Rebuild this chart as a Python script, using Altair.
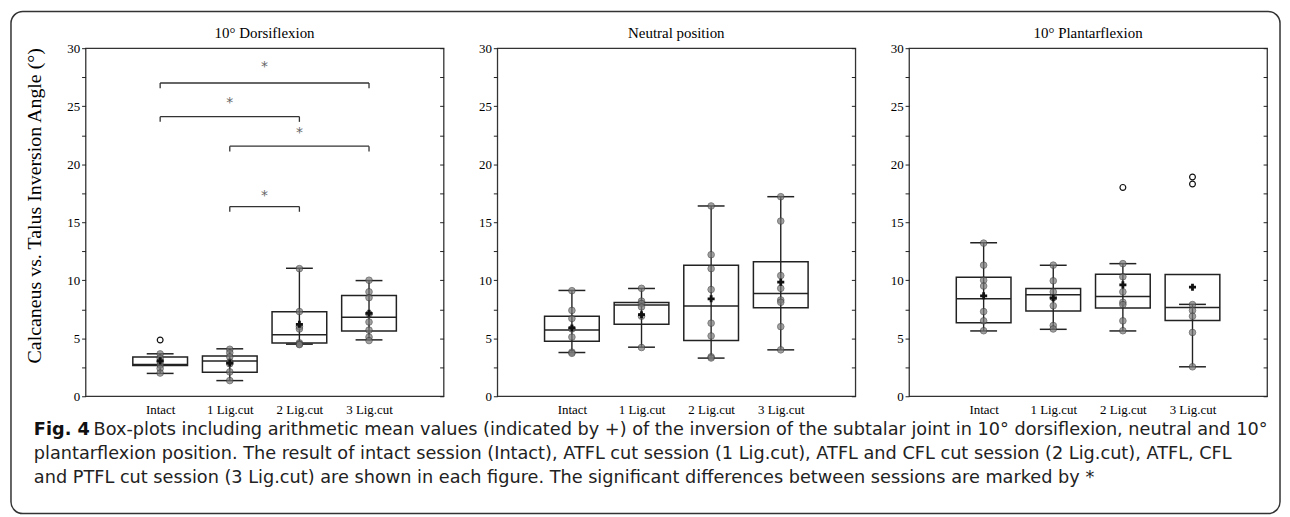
import json
import altair as alt
import pandas as pd

categories = ["Intact", "1 Lig.cut", "2 Lig.cut", "3 Lig.cut"]
panel_titles = ["10° Dorsiflexion", "Neutral position", "10° Plantarflexion"]
y_title = "Calcaneus vs. Talus Inversion Angle (°)"

# ---- 10° Dorsiflexion
dors_q1 = [2.65, 2.06, 4.60, 5.63]
dors_med = [2.74, 3.03, 5.31, 6.80]
dors_q3 = [3.38, 3.46, 7.28, 8.69]
dors_lo = [1.97, 1.35, 4.49, 4.86]
dors_hi = [3.66, 4.09, 11.03, 9.97]
dors_mean = [3.05, 2.86, 6.20, 7.15]
dors_pts = [[3.65, 3.3, 3.0, 2.7, 2.4, 2.0],
            [4.05, 3.75, 3.4, 2.95, 2.8, 2.1, 1.35],
            [11.0, 7.3, 6.0, 5.8, 4.6, 4.5, 4.45],
            [10.0, 9.0, 8.5, 7.1, 6.4, 5.7, 5.1, 4.8]]
dors_out = [[4.85], [], [], []]

# ---- Neutral position
neut_q1 = [4.75, 6.20, 4.80, 7.63]
neut_med = [5.72, 7.86, 7.77, 8.86]
neut_q3 = [6.89, 8.09, 11.29, 11.60]
neut_lo = [3.77, 4.23, 3.29, 4.00]
neut_hi = [9.12, 9.29, 16.40, 17.20]
neut_mean = [5.89, 7.03, 8.40, 9.83]
neut_pts = [[9.1, 7.4, 6.7, 5.8, 5.1, 3.8, 3.7],
            [9.3, 8.2, 8.0, 7.7, 6.9, 4.2],
            [16.4, 12.2, 11.0, 9.2, 6.3, 5.2, 3.4, 3.3],
            [17.2, 15.1, 10.4, 9.3, 8.3, 8.1, 6.0, 4.0]]
neut_out = [[], [], [], []]

# ---- 10° Plantarflexion
plan_q1 = [6.34, 7.34, 7.60, 6.52]
plan_med = [8.40, 8.74, 8.60, 7.66]
plan_q3 = [10.26, 9.29, 10.51, 10.49]
plan_lo = [5.63, 5.77, 5.63, 2.54]
plan_hi = [13.23, 11.29, 11.43, 7.92]
plan_mean = [8.66, 8.46, 9.60, 9.40]
plan_pts = [[13.2, 11.3, 10.0, 9.5, 7.3, 6.5, 5.65],
            [11.3, 9.95, 9.0, 8.5, 7.8, 6.1, 5.8],
            [11.43, 10.3, 9.0, 8.1, 7.9, 6.5, 5.65],
            [7.9, 7.4, 6.9, 5.5, 2.54]]
plan_out = [[], [], [18.0], [18.9, 18.3]]

# significance brackets (dorsiflexion panel): category index from/to, level, star level
br_from = [1, 1, 2, 2]
br_to = [4, 3, 4, 3]
br_level = [27.0, 24.1, 21.55, 16.35]
br_star = [28.4, 25.3, 22.7, 17.3]

caption_bold = "Fig. 4"
caption_lines = [
    "Box-plots including arithmetic mean values (indicated by +) of the inversion of the subtalar joint in 10° dorsiflexion, neutral and 10°",
    "plantarflexion position. The result of intact session (Intact), ATFL cut session (1 Lig.cut), ATFL and CFL cut session (2 Lig.cut), ATFL, CFL",
    "and PTFL cut session (3 Lig.cut) are shown in each figure. The significant differences between sessions are marked by *",
]

SERIF = "Liberation Serif"
CAP_FONT = "DejaVu Sans"
CAP_SIZE = 17.8
INK = "#222222"
PW, PH = 360, 350

label_expr = json.dumps([""] + categories) + "[datum.value]"
xscale = alt.Scale(domain=[0, 5], nice=False, zero=False)
yscale = alt.Scale(domain=[0, 30], nice=False, zero=False)
xaxis = alt.Axis(values=[1, 2, 3, 4], labelExpr=label_expr, ticks=False, domain=False,
                 grid=False, labelFont=SERIF, labelFontSize=13, labelColor="black",
                 labelPadding=7)
yvals = [i * 2.5 for i in range(13)]
left_axis = alt.Axis(values=yvals, labelExpr="datum.value % 5 === 0 ? datum.label : ''",
                     tickSize=4, tickColor=INK, domain=False, grid=False, labelFont=SERIF,
                     labelFontSize=13, labelColor="black", labelPadding=2,
                     titleFont=SERIF, titleFontSize=20, titleFontWeight="normal",
                     titleColor="black", titlePadding=22, titleY=158)
right_axis = alt.Axis(orient="right", values=yvals, labels=False, tickSize=4, tickColor=INK,
                      domain=False, grid=False, offset=-4)


def Xf(field):
    return alt.X(field, scale=xscale, axis=xaxis, title=None)


def Yn(field):
    return alt.Y(field, scale=yscale, axis=None)


def frame_and_caption():
    """Outer rounded frame and figure caption, positioned relative to the first panel."""
    one = pd.DataFrame({"t": [caption_bold]})
    frame = alt.Chart(one).mark_rect(fill="white", fillOpacity=0, stroke="#333333",
                                     strokeWidth=1.5, cornerRadius=12).encode(
        x=alt.value(-75), x2=alt.value(1201), y=alt.value(-37), y2=alt.value(468))
    layers = [frame]
    layers.append(alt.Chart(one).mark_text(
        font=CAP_FONT, fontSize=CAP_SIZE, fontWeight="bold", color="#111111", align="left",
        baseline="middle").encode(x=alt.value(-52), y=alt.value(384), text="t:N"))
    xs = [8, -52, -52]
    ys = [384, 408, 432]
    for line, xx, yy in zip(caption_lines, xs, ys):
        layers.append(alt.Chart(pd.DataFrame({"t": [line]})).mark_text(
            font=CAP_FONT, fontSize=CAP_SIZE, color="#222222", align="left",
            baseline="middle").encode(x=alt.value(xx), y=alt.value(yy), text="t:N"))
    return layers


def make_panel(q1, med, q3, lo, hi, mean, pts, outs, title, show_ytitle, first=False):
    pos = [1, 2, 3, 4]
    box_df = pd.DataFrame(dict(pos=pos, q1=q1, med=med, q3=q3, lo=lo, hi=hi, mean=mean))
    pts_df = pd.DataFrame([{"pos": i + 1, "v": v} for i, vs in enumerate(pts) for v in vs])
    out_rows = [{"pos": i + 1, "v": v} for i, vs in enumerate(outs) for v in vs]
    X = Xf("pos:Q")

    whisk = alt.Chart(box_df).mark_rule(color=INK, strokeWidth=1.4).encode(
        x=X,
        y=alt.Y("lo:Q", scale=yscale, axis=left_axis, title=y_title if show_ytitle else None),
        y2="hi:Q")
    box = alt.Chart(box_df).mark_bar(size=55, fill="white", fillOpacity=0, stroke=INK,
                                     strokeWidth=1.5).encode(
        x=X, y=alt.Y("q1:Q", scale=yscale, axis=right_axis, title=None), y2="q3:Q")
    median = alt.Chart(box_df).mark_tick(orient="horizontal", size=55, thickness=1.5,
                                         color=INK, opacity=1).encode(x=X, y=Yn("med:Q"))
    cap_lo = alt.Chart(box_df).mark_tick(orient="horizontal", size=27, thickness=1.5,
                                         color=INK, opacity=1).encode(x=X, y=Yn("lo:Q"))
    cap_hi = alt.Chart(box_df).mark_tick(orient="horizontal", size=27, thickness=1.5,
                                         color=INK, opacity=1).encode(x=X, y=Yn("hi:Q"))
    dots = alt.Chart(pts_df).mark_circle(size=44, color="#7a7a7a", opacity=0.7,
                                         stroke="#3c3c3c", strokeWidth=0.9).encode(
        x=X, y=Yn("v:Q"))
    mean_m = alt.Chart(box_df).mark_point(shape="cross", filled=True, color="#111111",
                                          size=50, opacity=1).encode(x=X, y=Yn("mean:Q"))
    ttl = alt.Chart(pd.DataFrame({"t": [title]})).mark_text(
        font=SERIF, fontSize=15, color="black", align="center", baseline="middle").encode(
        x=alt.value(PW / 2), y=alt.value(-15), text="t:N")
    layers = [whisk, box, median, cap_lo, cap_hi, dots]
    if out_rows:
        out_m = alt.Chart(pd.DataFrame(out_rows)).mark_point(
            shape="circle", size=34, filled=False, color="#111111", strokeWidth=1.2,
            opacity=1).encode(x=X, y=Yn("v:Q"))
        layers.append(out_m)
    layers += [mean_m, ttl]
    if first:
        br_df = pd.DataFrame(dict(a=br_from, b=br_to, lvl=br_level, star=br_star))
        base = alt.Chart(br_df).transform_calculate(
            low="datum.lvl - 0.45", mid="(datum.a + datum.b) / 2")
        hline = base.mark_rule(strokeWidth=1.3).encode(
            x=Xf("a:Q"), x2="b:Q", y=Yn("lvl:Q"), color=alt.value("#333333"))
        lend = base.mark_rule(strokeWidth=1.3).encode(
            x=Xf("a:Q"), y=Yn("lvl:Q"), y2="low:Q", color=alt.value("#333333"))
        rend = base.mark_rule(strokeWidth=1.3).encode(
            x=Xf("b:Q"), y=Yn("lvl:Q"), y2="low:Q", color=alt.value("#333333"))
        stars = base.mark_text(font="DejaVu Sans", fontSize=14, baseline="middle").encode(
            x=Xf("mid:Q"), y=Yn("star:Q"), text=alt.value("*"), color=alt.value("#666666"))
        layers += [hline, lend, rend, stars]
        layers += frame_and_caption()
    return alt.layer(*layers).resolve_scale(y="shared").resolve_axis(y="independent").properties(
        width=PW, height=PH,
        view=alt.ViewBackground(stroke="#333333", strokeWidth=1.3))


p1 = make_panel(dors_q1, dors_med, dors_q3, dors_lo, dors_hi, dors_mean, dors_pts, dors_out,
                panel_titles[0], True, first=True)
p2 = make_panel(neut_q1, neut_med, neut_q3, neut_lo, neut_hi, neut_mean, neut_pts, neut_out,
                panel_titles[1], False)
p3 = make_panel(plan_q1, plan_med, plan_q3, plan_lo, plan_hi, plan_mean, plan_pts, plan_out,
                panel_titles[2], False)

chart = alt.hconcat(p1, p2, p3, spacing=54, bounds="flush").properties(
    padding={"left": 1, "top": 0, "right": 0, "bottom": 0}
).configure_view(stroke="#333333").configure(background="white")

chart.save("out.html", embed_options={"renderer": "svg", "actions": False})
